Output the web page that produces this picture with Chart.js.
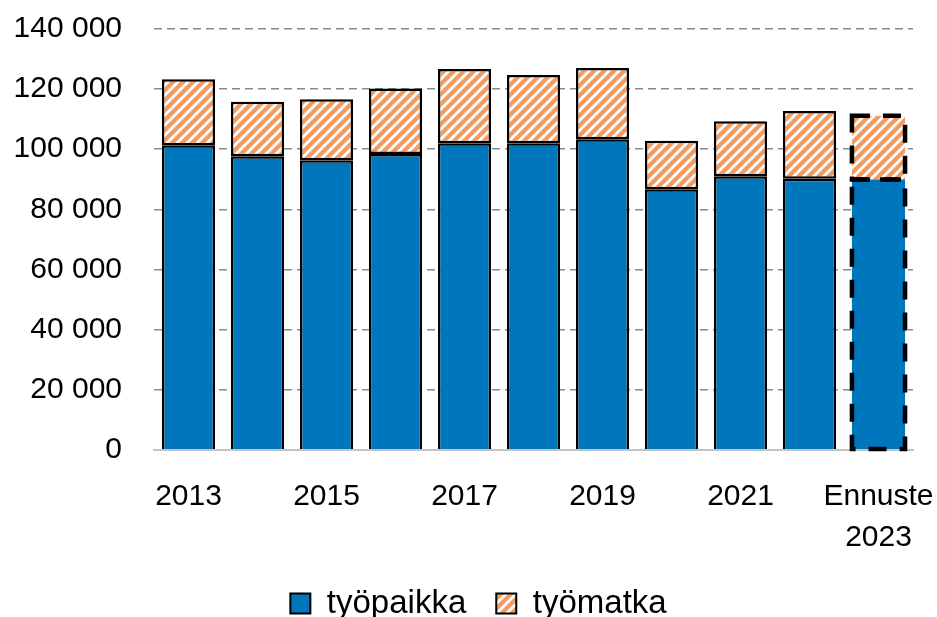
<!DOCTYPE html>
<html>
<head>
<meta charset="utf-8">
<script src="https://cdn.jsdelivr.net/npm/chart.js@4/dist/chart.umd.min.js"></script>
<style>
  html, body { margin: 0; padding: 0; background: #fff; overflow: hidden; }
  #wrap { width: 937px; height: 630px; position: relative; }
</style>
</head>
<body>
<div id="wrap"><canvas id="myChart"></canvas></div>
<script>
// Data

let years = ['2013', '2014', '2015', '2016', '2017', '2018', '2019', '2020', '2021', '2022', '2023'];
let tickLabels = ['2013', '', '2015', '', '2017', '', '2019', '', '2021', '', ['Ennuste', '2023']];
let tyopaikka = [101300, 97700, 96300, 98400, 102000, 102000, 103300, 86700, 91000, 90200, 89900];
let tyomatka = [22000, 18100, 20300, 21800, 24700, 22700, 23700, 16100, 18300, 22500, 21200];
let yTicks = [0, 20000, 40000, 60000, 80000, 100000, 120000, 140000];

let blue = '#0077BC';
let orange = '#F39C61';
let lastIndex = years.length - 1;

// striped fill for työmatka
function makeHatch() {
  let s = 10;
  let tile = document.createElement('canvas');
  tile.width = s;
  tile.height = s;
  let c = tile.getContext('2d');
  c.fillStyle = orange;
  c.fillRect(0, 0, s, s);
  c.strokeStyle = '#ffffff';
  c.lineWidth = 2.8;
  c.beginPath();
  c.moveTo(-s / 2, s / 2); c.lineTo(s / 2, -s / 2);
  c.moveTo(0, s); c.lineTo(s, 0);
  c.moveTo(s / 2, s * 1.5); c.lineTo(s * 1.5, s / 2);
  c.stroke();
  return c.createPattern(tile, 'repeat');
}

let ctx = document.getElementById('myChart').getContext('2d');
let hatch = makeHatch();

function formatNumber(v) {
  return String(v).replace(/\B(?=(\d{3})+(?!\d))/g, ' ');
}

// dashed outline for the forecast bar
let forecastOutline = {
  id: 'forecastOutline',
  afterLayout(chart) {
    // legend sits a bit right of centre in the original
    chart.legend.left += 15;
    chart.legend.right += 15;
  },
  afterDatasetsDraw(chart) {
    let c = chart.ctx;
    c.save();
    c.strokeStyle = '#000';
    c.lineWidth = 4.5;
    c.setLineDash([18, 13]);
    chart.data.datasets.forEach(function (ds, i) {
      let bar = chart.getDatasetMeta(i).data[lastIndex];
      let p = bar.getProps(['x', 'y', 'base', 'width'], true);
      let left = p.x - p.width / 2;
      c.strokeRect(left, p.y, p.width, p.base - p.y);
    });
    c.restore();
  },
};

function barBorder(c) {
  return c.dataIndex === lastIndex ? 0 : 2.5;
}

let myChart = new Chart(ctx, {
  type: 'bar',
  data: {
    labels: years,
    datasets: [
      {
        label: 'työpaikka',
        data: tyopaikka,
        backgroundColor: blue,
        borderColor: '#000',
        borderWidth: barBorder,
        borderSkipped: 'bottom',
        barPercentage: 0.77,
        categoryPercentage: 1,
      },
      {
        label: 'työmatka',
        data: tyomatka,
        backgroundColor: hatch,
        borderColor: '#000',
        borderWidth: barBorder,
        borderSkipped: false,
        barPercentage: 0.77,
        categoryPercentage: 1,
      },
    ],
  },
  options: {
    responsive: true,
    maintainAspectRatio: false,
    animation: false,
    layout: { padding: { left: 14, right: 24, top: 29, bottom: 0 } },
    plugins: {
      tooltip: { enabled: false },
      legend: {
        position: 'bottom',
        labels: {
          color: '#000',
          font: { family: 'Liberation Sans', size: 33 },
          boxWidth: 20,
          boxHeight: 20,
          padding: 30,
          generateLabels: function (chart) {
            return chart.data.datasets.map(function (ds, i) {
              return {
                text: ds.label,
                fillStyle: ds.backgroundColor,
                strokeStyle: '#000',
                lineWidth: 2,
                datasetIndex: i,
                fontColor: '#000',
              };
            });
          },
        },
      },
    },
    scales: {
      x: {
        stacked: true,
        grid: { display: false },
        border: { display: true, color: '#c4c4c4', width: 2 },
        afterFit: function (axis) {
          axis.paddingLeft = 0;
          axis.paddingRight = 0;
          axis.height = axis.height - 19;
        },
        ticks: {
          color: '#000',
          autoSkip: false,
          maxRotation: 0,
          padding: 18,
          font: { family: 'Liberation Sans', size: 30, lineHeight: 1.37 },
          callback: function (v, i) { return tickLabels[i]; },
        },
      },
      y: {
        stacked: true,
        min: 0,
        max: 140000,
        afterBuildTicks: function (axis) {
          axis.ticks = yTicks.map(function (v) { return { value: v }; });
        },
        afterFit: function (axis) {
          axis.width = 140;
          axis.paddingTop = 0;
          axis.paddingBottom = 0;
        },
        grid: {
          drawTicks: false,
          color: function (c) { return c.tick && c.tick.value === 0 ? 'rgba(0,0,0,0)' : '#8a8a8a'; },
          lineWidth: 1.6,
        },
        border: { display: false, dash: [8, 5] },
        ticks: {
          color: '#000',
          padding: 32,
          font: { family: 'Liberation Sans', size: 30 },
          callback: function (v) { return formatNumber(v); },
        },
      },
    },
  },
  plugins: [forecastOutline],
});
</script>
</body>
</html>
